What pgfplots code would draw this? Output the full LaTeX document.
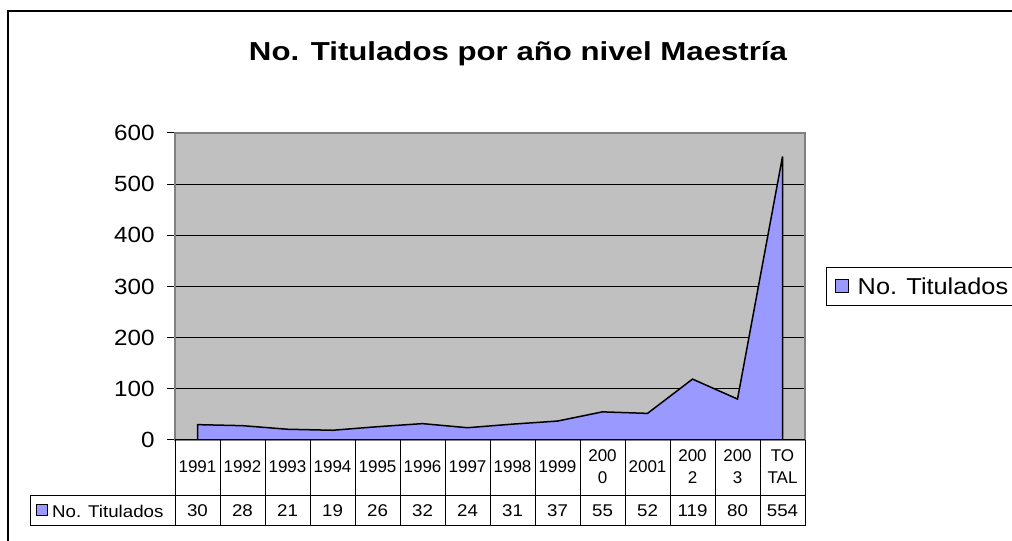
\documentclass[border=0pt]{standalone}
\usepackage{pgfplots}
\pgfplotsset{compat=1.18}
\usepackage{fontspec}
\setmainfont{Liberation Sans}
\newfontfamily\titlefont[FakeStretch=1.2]{Liberation Sans}
\newfontfamily\widefont[FakeStretch=1.1]{Liberation Sans}
\definecolor{areablue}{HTML}{9999FF}
\definecolor{plotgray}{HTML}{C0C0C0}
\definecolor{bordergray}{HTML}{808080}

\begin{document}
\begin{tikzpicture}[x=1bp,y=1bp]
\useasboundingbox (0,0) rectangle (1012,541);
\fill[white] (0,0) rectangle (1012,541);
\draw[line width=2bp] (8,-5) -- (8,530) -- (1020,530);
\node[font=\titlefont\bfseries\fontsize{26bp}{30bp}\selectfont] at (518,487) {No. Titulados por año nivel Maestría};

\begin{axis}[
    at={(175bp,101bp)}, anchor=south west,
    width=630bp, height=307bp, scale only axis,
    xmin=-0.5, xmax=13.5, ymin=0, ymax=600,
    xtick={0,...,13},
    xticklabels={1991,1992,1993,1994,1995,1996,1997,1998,1999,{200\\0},2001,{200\\2},{200\\3},{TO\\TAL}},
    xticklabel style={align=center, font=\fontsize{17bp}{22bp}\selectfont, anchor=center, yshift=-19bp},
    ytick={0,100,...,600},
    ytick pos=left,
    yticklabel style={font=\widefont\fontsize{22bp}{26bp}\selectfont, xshift=-9bp},
    /pgf/number format/assume math mode=true,
    tick align=outside, major tick length=8bp,
    xtick style={draw=none}, ytick style={black, line width=1bp},
    ymajorgrids, grid style={black, line width=0.8bp},
    axis background/.style={fill=plotgray},
    axis line style={bordergray, line width=1.5bp},
    legend style={at={(1.0333,0.5)}, anchor=west, draw=black, line width=1bp,
        font=\widefont\fontsize{23bp}{27bp}\selectfont, inner xsep=9bp, inner ysep=8bp},
    legend cell align=left,
    legend image code/.code={\draw[fill=areablue, draw=black, line width=1bp] (0bp,-6.5bp) rectangle (13bp,6.5bp); \path (19bp,0bp);},
]
\addplot[fill=areablue, draw=black, line width=1.5bp] coordinates {
    (0,30) (1,28) (2,21) (3,19) (4,26) (5,32) (6,24)
    (7,31) (8,37) (9,55) (10,52) (11,119) (12,80) (13,554)
} \closedcycle;
\addlegendentry{No. Titulados}
\end{axis}

% data table under the plot
\draw[line width=1bp] (175,101) -- (805,101);
\draw[line width=1bp] (30,45) -- (805,45);
\draw[line width=1bp] (30,15) -- (805,15);
\draw[line width=1bp] (30,45) -- (30,15);
\foreach \k in {0,...,14}
    \draw[line width=1bp] ({175+45*\k},101) -- ({175+45*\k},15);
\draw[fill=areablue, draw=black, line width=1bp] (36,25) rectangle (47,36);
\node[anchor=west, font=\widefont\fontsize{17bp}{20bp}\selectfont, inner sep=0] at (52,30) {No. Titulados};
\foreach \v [count=\i from 0] in {30,28,21,19,26,32,24,31,37,55,52,119,80,554}
    \node[font=\widefont\fontsize{17bp}{20bp}\selectfont] at ({175+45*(\i+0.5)},30) {\v};
\end{tikzpicture}
\end{document}
